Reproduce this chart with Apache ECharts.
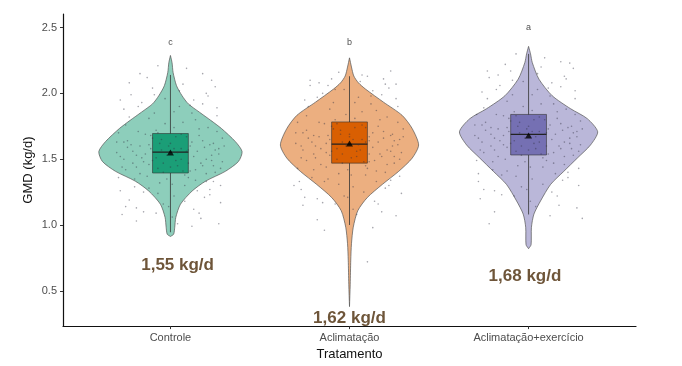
<!DOCTYPE html>
<html><head><meta charset="utf-8">
<script src="https://cdn.jsdelivr.net/npm/echarts@6/dist/echarts.min.js"></script>
<style>html,body{margin:0;padding:0;background:#fff}#c{width:682px;height:366px}</style>
</head><body><div id="c"></div>
<script>
const categories = ['Controle', 'Aclimatação', 'Aclimatação+exercício'];
const yTicks = [0.5, 1.0, 1.5, 2.0, 2.5];
const letters = ['c', 'b', 'a'];
const means = [1.55, 1.62, 1.68];
const whiskerLow = [0.945, 1.0, 1.08];
const q1 = [1.395, 1.47, 1.532];
const medians = [1.553, 1.615, 1.688];
const q3 = [1.695, 1.783, 1.84];
const whiskerHigh = [2.14, 2.13, 2.30];

// violin density profiles: value levels and half-widths (category units)
const ctrlViolinY = [2.288, 2.233, 2.158, 2.058, 1.982, 1.92, 1.857, 1.795, 1.733, 1.633, 1.558, 1.483, 1.408, 1.333, 1.258, 1.158, 1.058, 0.983, 0.93, 0.913];
const ctrlViolinW = [0, 0.009, 0.015, 0.034, 0.065, 0.1, 0.162, 0.225, 0.285, 0.363, 0.400, 0.380, 0.307, 0.196, 0.121, 0.056, 0.030, 0.024, 0.018, 0];
const aclViolinY = [2.27, 2.20, 2.132, 2.08, 2.033, 1.933, 1.833, 1.733, 1.608, 1.508, 1.408, 1.308, 1.208, 1.108, 0.983, 0.858, 0.733, 0.55, 0.38];
const aclViolinW = [0, 0.011, 0.024, 0.05, 0.089, 0.19, 0.294, 0.350, 0.386, 0.350, 0.275, 0.183, 0.099, 0.046, 0.021, 0.011, 0.007, 0.004, 0];
const exViolinY = [2.357, 2.30, 2.233, 2.108, 1.982, 1.883, 1.808, 1.708, 1.608, 1.508, 1.408, 1.308, 1.183, 1.083, 0.983, 0.85, 0.82];
const exViolinW = [0, 0.011, 0.021, 0.058, 0.132, 0.235, 0.328, 0.386, 0.346, 0.272, 0.197, 0.123, 0.067, 0.030, 0.016, 0.014, 0];

const ctrlPts = [[-0.28,1.52],[-0.22,1.61],[-0.15,1.48],[-0.05,1.57],[0.04,1.55],[0.12,1.63],[0.2,1.5],[0.27,1.58],[-0.25,1.42],[-0.18,1.71],[-0.1,1.66],[0.0,1.44],[0.08,1.38],[0.16,1.73],[0.24,1.45],[-0.29,1.36],[-0.2,1.29],[-0.12,1.81],[-0.03,1.77],[0.06,1.69],[0.14,1.34],[0.22,1.27],[0.29,1.66],[-0.26,1.88],[-0.16,1.93],[-0.07,1.24],[0.02,1.86],[0.11,1.91],[0.19,1.21],[0.26,1.83],[-0.23,2.08],[-0.13,2.12],[-0.04,1.16],[0.05,2.02],[0.13,1.12],[0.21,1.98],[0.28,1.17],[-0.27,1.08],[-0.19,1.13],[-0.09,1.99],[0.01,1.06],[0.09,2.19],[0.17,1.05],[0.25,2.05],[-0.24,1.59],[-0.14,1.54],[-0.06,1.62],[0.03,1.49],[0.1,1.57],[0.18,1.64],[0.23,1.53],[-0.21,1.47],[-0.11,1.68],[-0.01,1.6],[0.07,1.41],[0.15,1.56],[0.28,1.43],[-0.3,1.63],[-0.17,1.39],[-0.08,1.51],[0.02,1.74],[0.1,1.47],[0.2,1.39],[0.26,1.71],[-0.25,1.76],[-0.12,1.46],[-0.02,1.35],[0.06,1.58],[0.14,1.8],[0.22,1.61],[-0.28,1.95],[-0.19,1.03],[0.12,0.99],[0.27,1.01],[-0.07,2.21],[0.18,2.15],[-0.15,1.25],[0.08,1.3],[0.24,1.33],[-0.23,1.19],
[-0.3,1.55],[-0.26,1.5],[-0.24,1.64],[-0.21,1.56],[-0.19,1.44],[-0.17,1.6],[-0.16,1.51],[-0.14,1.69],[-0.13,1.37],[-0.11,1.58],[-0.1,1.49],[-0.08,1.72],[-0.07,1.43],[-0.05,1.65],[-0.04,1.4],[-0.02,1.53],[0.0,1.62],[0.01,1.31],[0.03,1.67],[0.04,1.45],[0.06,1.5],[0.07,1.78],[0.09,1.56],[0.1,1.36],[0.11,1.6],[0.13,1.52],[0.14,1.42],[0.16,1.68],[0.17,1.47],[0.19,1.59],[0.2,1.33],[0.21,1.74],[0.23,1.49],[0.24,1.62],[0.25,1.4],[0.27,1.54],[0.29,1.48],[0.3,1.6],[-0.29,1.7],[-0.27,1.44],[-0.23,1.82],[-0.2,1.35],[-0.18,1.9],[-0.12,1.28],[-0.09,1.85],[-0.06,1.32],[-0.03,1.96],[0.02,1.22],[0.05,1.9],[0.08,1.18],[0.12,1.85],[0.15,1.26],[0.18,1.92],[0.22,1.23],[0.26,1.89],[0.28,1.3],[-0.28,1.26],[-0.22,1.99],[-0.15,1.1],[-0.1,2.04],[-0.01,1.14],[0.07,2.07],[0.16,1.09],[0.23,2.1],[-0.25,1.14],[-0.17,2.15],[0.04,1.01],[0.2,2.0],[-0.08,1.09],[0.13,1.95],[-0.04,1.47],[0.09,1.67],[-0.19,1.53],[0.18,1.45],[-0.12,1.61],[0.25,1.57],[-0.26,1.63],[0.02,1.58],[-0.07,1.7],[0.11,1.41]];
const aclPts = [[-0.27,1.6],[-0.2,1.68],[-0.13,1.55],[-0.04,1.63],[0.05,1.61],[0.13,1.7],[0.21,1.57],[0.28,1.65],[-0.24,1.49],[-0.17,1.78],[-0.09,1.73],[0.01,1.51],[0.09,1.45],[0.17,1.8],[0.25,1.52],[-0.29,1.43],[-0.21,1.36],[-0.11,1.88],[-0.02,1.84],[0.07,1.76],[0.15,1.41],[0.23,1.34],[0.3,1.73],[-0.25,1.95],[-0.15,2.0],[-0.06,1.31],[0.03,1.93],[0.12,1.98],[0.2,1.28],[0.27,1.9],[-0.22,2.1],[-0.12,2.06],[-0.03,1.22],[0.06,2.09],[0.14,1.18],[0.22,2.04],[0.29,1.24],[-0.26,1.15],[-0.18,1.2],[-0.08,2.03],[0.02,1.12],[0.1,2.13],[0.18,1.1],[0.26,2.07],[-0.23,1.66],[-0.13,1.62],[-0.05,1.69],[0.04,1.56],[0.11,1.64],[0.19,1.71],[0.24,1.6],[-0.2,1.54],[-0.1,1.75],[0.0,1.67],[0.08,1.48],[0.16,1.63],[0.28,1.5],[-0.3,1.7],[-0.16,1.46],[-0.07,1.58],[0.03,1.81],[0.11,1.54],[0.21,1.46],[0.27,1.78],[-0.24,1.83],[-0.11,1.53],[-0.01,1.42],[0.07,1.65],[0.15,1.87],[0.23,1.68],[-0.27,1.27],[-0.18,1.04],[0.13,0.98],[0.26,1.07],[-0.06,2.16],[0.19,2.11],[-0.14,1.33],[0.09,1.38],[-0.31,1.3],[0.1,0.72],[-0.14,0.96],
[-0.3,1.62],[-0.26,1.57],[-0.24,1.72],[-0.21,1.63],[-0.19,1.51],[-0.17,1.67],[-0.16,1.58],[-0.14,1.77],[-0.13,1.44],[-0.11,1.65],[-0.1,1.56],[-0.08,1.8],[-0.07,1.5],[-0.05,1.72],[-0.04,1.47],[-0.02,1.6],[0.0,1.69],[0.01,1.38],[0.03,1.74],[0.04,1.52],[0.06,1.57],[0.07,1.86],[0.09,1.63],[0.1,1.43],[0.11,1.67],[0.13,1.59],[0.14,1.49],[0.16,1.75],[0.17,1.54],[0.19,1.66],[0.2,1.4],[0.21,1.82],[0.23,1.56],[0.24,1.69],[0.25,1.47],[0.27,1.61],[0.29,1.55],[0.3,1.67],[-0.29,1.78],[-0.27,1.51],[-0.23,1.9],[-0.2,1.42],[-0.18,1.97],[-0.12,1.35],[-0.09,1.93],[-0.06,1.39],[-0.03,2.03],[0.02,1.29],[0.05,1.97],[0.08,1.25],[0.12,1.92],[0.15,1.33],[0.18,1.99],[0.22,1.3],[0.26,1.96],[0.28,1.37],[-0.28,1.33],[-0.22,2.06],[-0.15,1.17],[-0.1,2.11],[-0.01,1.21],[0.07,2.14],[0.16,1.16],[0.23,2.17],[-0.25,1.21],[-0.17,2.08],[0.04,1.08],[0.2,2.07],[-0.08,1.16],[0.13,2.02],[-0.04,1.54],[0.09,1.74],[-0.19,1.6],[0.18,1.52],[-0.12,1.68],[0.25,1.64],[-0.26,1.7],[0.02,1.65],[-0.07,1.77],[0.11,1.48]];
const exPts = [[-0.28,1.66],[-0.21,1.74],[-0.14,1.61],[-0.05,1.7],[0.04,1.67],[0.12,1.76],[0.2,1.63],[0.27,1.71],[-0.25,1.55],[-0.18,1.84],[-0.1,1.79],[0.0,1.57],[0.08,1.51],[0.16,1.86],[0.24,1.58],[-0.29,1.49],[-0.2,1.42],[-0.12,1.94],[-0.03,1.9],[0.06,1.82],[0.14,1.47],[0.22,1.4],[0.29,1.79],[-0.26,2.01],[-0.16,2.06],[-0.07,1.37],[0.02,1.99],[0.11,2.04],[0.19,1.34],[0.26,1.96],[-0.23,2.17],[-0.13,2.22],[-0.04,1.29],[0.05,2.15],[0.13,1.25],[0.21,2.11],[0.28,1.3],[-0.27,1.2],[-0.19,1.26],[-0.09,2.1],[0.01,1.18],[0.09,2.27],[0.17,1.15],[0.25,2.19],[-0.24,1.72],[-0.14,1.68],[-0.06,1.75],[0.03,1.62],[0.1,1.7],[0.18,1.77],[0.23,1.66],[-0.21,1.6],[-0.11,1.81],[-0.01,1.73],[0.07,1.54],[0.15,1.69],[0.28,1.56],[-0.3,1.76],[-0.17,1.52],[-0.08,1.64],[0.02,1.87],[0.1,1.6],[0.2,1.52],[0.26,1.84],[-0.25,1.89],[-0.12,1.59],[-0.02,1.48],[0.06,1.71],[0.14,1.92],[0.22,1.74],[-0.28,1.33],[-0.19,1.1],[0.12,1.07],[0.27,1.13],[-0.07,2.3],[0.18,2.24],[-0.15,1.38],[0.08,1.44],[0.3,1.05],[-0.22,1.01],
[-0.3,1.68],[-0.26,1.63],[-0.24,1.78],[-0.21,1.69],[-0.19,1.57],[-0.17,1.73],[-0.16,1.64],[-0.14,1.83],[-0.13,1.5],[-0.11,1.71],[-0.1,1.62],[-0.08,1.86],[-0.07,1.56],[-0.05,1.78],[-0.04,1.53],[-0.02,1.66],[0.0,1.75],[0.01,1.44],[0.03,1.8],[0.04,1.58],[0.06,1.63],[0.07,1.92],[0.09,1.69],[0.1,1.49],[0.11,1.73],[0.13,1.65],[0.14,1.55],[0.16,1.81],[0.17,1.6],[0.19,1.72],[0.2,1.46],[0.21,1.88],[0.23,1.62],[0.24,1.75],[0.25,1.53],[0.27,1.67],[0.29,1.61],[0.3,1.73],[-0.29,1.84],[-0.27,1.57],[-0.23,1.96],[-0.2,1.48],[-0.18,2.03],[-0.12,1.41],[-0.09,1.99],[-0.06,1.45],[-0.03,2.09],[0.02,1.35],[0.05,2.03],[0.08,1.31],[0.12,1.98],[0.15,1.39],[0.18,2.05],[0.22,1.36],[0.26,2.02],[0.28,1.43],[-0.28,1.39],[-0.22,2.12],[-0.15,1.23],[-0.1,2.17],[-0.01,1.27],[0.07,2.2],[0.16,1.22],[0.23,2.23],[-0.25,1.27],[-0.17,2.14],[0.04,1.14],[0.2,2.13],[-0.08,1.22],[0.13,2.08],[-0.04,1.6],[0.09,1.8],[-0.19,1.66],[0.18,1.58],[-0.12,1.74],[0.25,1.7],[-0.26,1.76],[0.02,1.71],[-0.07,1.83],[0.11,1.54]];

const violinFill = ['#8dcebb', '#ecaf80', '#bab7d9'];
const boxFill = ['#1b9e77', '#d95f02', '#7570b3'];
const FONT = '"Liberation Sans", Arial, sans-serif';

const violins = [[ctrlViolinY, ctrlViolinW], [aclViolinY, aclViolinW], [exViolinY, exViolinW]];
const ptsAll = [ctrlPts, aclPts, exPts];

const chart = echarts.init(document.getElementById('c'), null, {renderer: 'canvas'});

const violinSeries = violins.map(([ys, ws], i) => ({
  type: 'custom', silent: true, z: 1,
  data: [[i + 1, means[i]]],
  renderItem: (params, api) => {
    const c = i + 1, pts = [];
    for (let k = 0; k < ys.length; k++) pts.push(api.coord([c + ws[k], ys[k]]));
    for (let k = ys.length - 1; k >= 0; k--) pts.push(api.coord([c - ws[k], ys[k]]));
    return {type: 'polygon', shape: {points: pts, smooth: 0.25},
      style: {fill: violinFill[i], stroke: '#555555', lineWidth: 0.7}};
  }
}));

const boxSeries = {
  type: 'custom', silent: true, z: 2,
  data: categories.map((c, i) => [i + 1, whiskerLow[i], q1[i], medians[i], q3[i], whiskerHigh[i]]),
  renderItem: (params, api) => {
    const x = api.value(0);
    const lo = api.coord([x, api.value(1)]), a = api.coord([x, api.value(2)]),
      m = api.coord([x, api.value(3)]), b = api.coord([x, api.value(4)]), hi = api.coord([x, api.value(5)]);
    const half = api.size([0.1, 0])[0];
    const idx = params.dataIndex;
    return {type: 'group', children: [
      {type: 'line', shape: {x1: lo[0], y1: lo[1], x2: hi[0], y2: hi[1]}, style: {stroke: '#333', lineWidth: 0.8}},
      {type: 'rect', shape: {x: a[0] - half, y: b[1], width: half * 2, height: a[1] - b[1]},
        style: {fill: boxFill[idx], stroke: '#333', lineWidth: 0.6}},
      {type: 'line', shape: {x1: m[0] - half, y1: m[1], x2: m[0] + half, y2: m[1]}, style: {stroke: '#222', lineWidth: 1.3}}
    ]};
  }
};

const pointSeries = ptsAll.map((pts, i) => ({
  type: 'scatter', silent: true, z: 3, symbolSize: 1.6,
  itemStyle: {color: 'rgba(50,50,65,0.55)'},
  data: pts.map(p => [i + 1 + p[0], p[1]])
}));

const option = {
  animation: false,
  grid: {left: 63, right: 46, top: 14, bottom: 36},
  xAxis: {
    type: 'value', min: 0.4, max: 3.6,
    name: 'Tratamento', nameLocation: 'middle', nameGap: 19,
    nameTextStyle: {fontFamily: FONT, fontSize: 13, color: '#111'},
    axisLine: {lineStyle: {color: '#111', width: 1.2}},
    axisTick: {show: true, length: 3, customValues: [1, 2, 3], lineStyle: {color: '#333'}},
    axisLabel: {customValues: [1, 2, 3], formatter: v => categories[Math.round(v) - 1], margin: 6,
      fontFamily: FONT, fontSize: 11, color: '#4d4d4d'},
    splitLine: {show: false}
  },
  yAxis: {
    type: 'value', min: 0.232, max: 2.603,
    name: 'GMD (kg/d)', nameLocation: 'middle', nameGap: 28, nameRotate: 90, nameMoveOverlap: false,
    nameTextStyle: {fontFamily: FONT, fontSize: 13, color: '#111'},
    axisLine: {show: true, lineStyle: {color: '#111', width: 1.2}},
    axisTick: {show: true, length: 3, customValues: yTicks, lineStyle: {color: '#333'}},
    axisLabel: {customValues: yTicks, formatter: v => v.toFixed(1), margin: 6,
      fontFamily: FONT, fontSize: 11, color: '#4d4d4d'},
    splitLine: {show: false}
  },
  series: [
    ...violinSeries,
    boxSeries,
    ...pointSeries,
    {type: 'scatter', silent: true, z: 4, symbol: 'triangle', symbolSize: [7, 6],
      itemStyle: {color: '#000'}, data: means.map((m, i) => [i + 1, m])},
    {type: 'scatter', silent: true, z: 5, symbolSize: 0,
      data: [[1, 2.39, letters[0]], [2, 2.39, letters[1]], [3, 2.5, letters[2]]],
      label: {show: true, position: 'inside', formatter: p => p.value[2],
        fontFamily: FONT, fontSize: 9, color: '#222'}},
    {type: 'scatter', silent: true, z: 5, symbolSize: 0,
      data: [[1.04, 0.69, 0], [2, 0.292, 1], [2.98, 0.61, 2]],
      label: {show: true, position: 'inside',
        formatter: p => means[p.value[2]].toFixed(2).replace('.', ',') + ' kg/d',
        fontFamily: FONT, fontSize: 17, fontWeight: 'bold', color: '#4a2a08'}}
  ]
};
chart.setOption(option);
</script></body></html>
